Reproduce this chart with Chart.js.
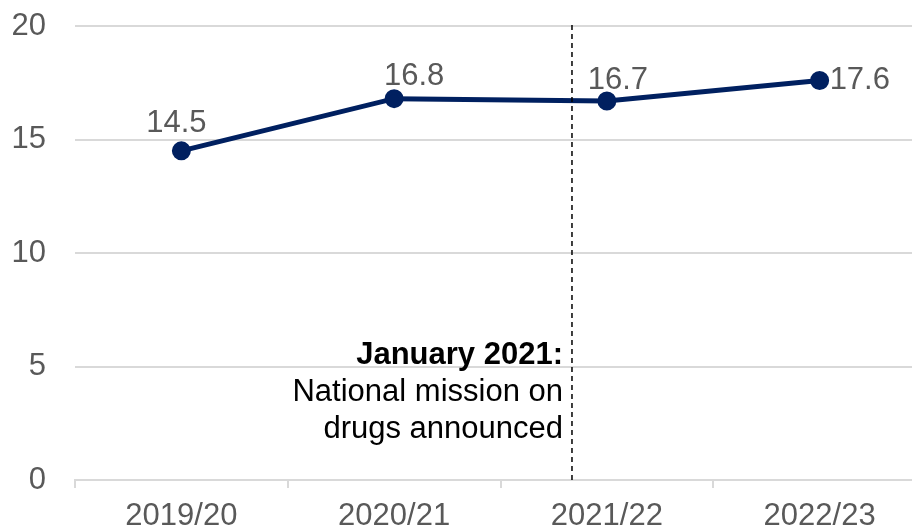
<!DOCTYPE html>
<html>
<head>
<meta charset="utf-8">
<script src="https://cdn.jsdelivr.net/npm/chart.js@4"></script>
<style>
  html, body { margin: 0; padding: 0; background: #fff; overflow: hidden; }
  #wrap { width: 938px; height: 532px; }
</style>
</head>
<body>
<div id="wrap"><canvas id="drug-chart" width="938" height="532"></canvas></div>
<script>
const years = ['2019/20', '2020/21', '2021/22', '2022/23'];
const values = [14.5, 16.8, 16.7, 17.6];
const yTicks = [0, 5, 10, 15, 20];
const missionAt = 1.836; // position between 2020/21 and 2021/22
const noteLines = ['January 2021:', 'National mission on', 'drugs announced'];

// label placement next to each point (style only)
const labelOffsets = [[-5, -27, 'center'], [20, -22, 'center'], [11, -20, 'center'], [10, 0, 'left']];

const FONT = '"Liberation Sans", Arial, sans-serif';
const NAVY = '#002060';
const GREY = '#595959';
const GRID = '#d9d9d9';

const extras = {
  id: 'extras',
  afterDatasetsDraw(chart) {
    const { ctx, scales: { x, y } } = chart;
    const meta = chart.getDatasetMeta(0);

    // value labels
    ctx.save();
    ctx.font = '31px ' + FONT;
    ctx.fillStyle = GREY;
    ctx.textBaseline = 'middle';
    meta.data.forEach((pt, i) => {
      const [dx, dy, align] = labelOffsets[i];
      ctx.textAlign = align;
      ctx.fillText(values[i].toFixed(1), pt.x + dx, pt.y + dy);
    });
    ctx.restore();

    // dashed marker line
    const lx = x.getPixelForValue(missionAt);
    ctx.save();
    ctx.strokeStyle = '#000';
    ctx.lineWidth = 1.5;
    ctx.setLineDash([5, 4]);
    ctx.beginPath();
    ctx.moveTo(lx, y.getPixelForValue(20) - 1);
    ctx.lineTo(lx, y.getPixelForValue(0));
    ctx.stroke();
    ctx.restore();

    // note text
    ctx.save();
    ctx.fillStyle = '#000';
    ctx.textAlign = 'right';
    ctx.textBaseline = 'middle';
    const top = y.getPixelForValue(5.5);
    noteLines.forEach((line, i) => {
      ctx.font = (i === 0 ? 'bold ' : '') + '31px ' + FONT;
      ctx.fillText(line, lx - 9, top + i * 37);
    });
    ctx.restore();
  }
};

new Chart(document.getElementById('drug-chart'), {
  type: 'line',
  data: {
    labels: years,
    datasets: [{
      data: values,
      borderColor: NAVY,
      backgroundColor: NAVY,
      borderWidth: 5,
      pointRadius: 7,
      pointHoverRadius: 7,
      tension: 0
    }]
  },
  options: {
    responsive: false,
    animation: false,
    layout: { padding: { top: 26, left: 0, right: 0, bottom: 0 } },
    plugins: { legend: { display: false }, tooltip: { enabled: false } },
    scales: {
      x: {
        offset: true,
        grid: { offset: true, drawOnChartArea: false, color: GRID, lineWidth: 2, tickLength: 8 },
        border: { color: GRID, width: 2 },
        ticks: { color: GREY, font: { family: FONT, size: 31 }, padding: 10, maxRotation: 0 },
        afterFit: s => { s.height = 52; }
      },
      y: {
        min: 0,
        max: 20,
        afterBuildTicks: s => { s.ticks = yTicks.map(v => ({ value: v })); },
        grid: { color: GRID, lineWidth: 2, drawTicks: false },
        border: { display: false },
        ticks: { color: GREY, font: { family: FONT, size: 31 }, padding: 29 },
        afterFit: s => { s.width = 75; s.paddingTop = 10; s.paddingBottom = 10; }
      }
    }
  },
  plugins: [extras]
});
</script>
</body>
</html>
